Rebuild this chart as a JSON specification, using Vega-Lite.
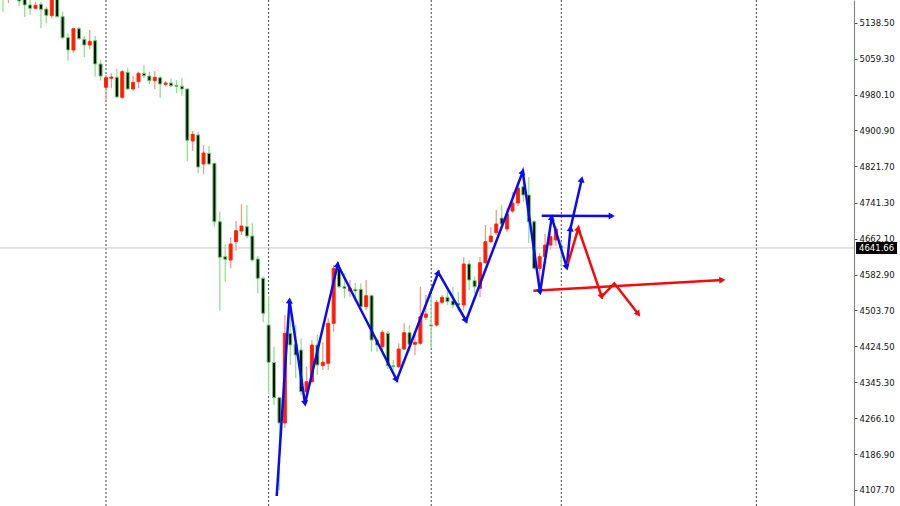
{
  "$schema": "https://vega.github.io/schema/vega-lite/v6.json",
  "width": 854,
  "height": 506,
  "padding": {"left": 0, "top": 0, "right": 46, "bottom": 0},
  "autosize": {"type": "none"},
  "background": "white",
  "config": {
    "view": {"stroke": null},
    "scale": {"continuousPadding": 0}
  },
  "datasets": {
    "candles": [
      {"i":0,"o":5232.7,"h":5243.8,"l":5162.1,"c":5195.2},
      {"i":1,"o":5195.2,"h":5228.3,"l":5182.0,"c":5215.1},
      {"i":2,"o":5254.8,"h":5265.8,"l":5206.2,"c":5221.7},
      {"i":3,"o":5215.1,"h":5223.9,"l":5175.4,"c":5186.4},
      {"i":4,"o":5197.4,"h":5206.2,"l":5151.1,"c":5177.6},
      {"i":5,"o":5177.6,"h":5190.8,"l":5155.5,"c":5170.3},
      {"i":6,"o":5170.3,"h":5184.9,"l":5168.7,"c":5176.9},
      {"i":7,"o":5179.1,"h":5184.9,"l":5126.2,"c":5168.1},
      {"i":8,"o":5168.7,"h":5173.8,"l":5137.2,"c":5154.8},
      {"i":9,"o":5154.0,"h":5199.6,"l":5148.2,"c":5193.0},
      {"i":10,"o":5193.0,"h":5201.8,"l":5150.0,"c":5151.8},
      {"i":11,"o":5151.8,"h":5162.8,"l":5101.9,"c":5105.4},
      {"i":12,"o":5105.4,"h":5115.1,"l":5054.7,"c":5078.3},
      {"i":13,"o":5078.3,"h":5127.0,"l":5072.3,"c":5125.3},
      {"i":14,"o":5125.3,"h":5129.7,"l":5100.4,"c":5103.2},
      {"i":15,"o":5101.9,"h":5109.2,"l":5062.2,"c":5089.3},
      {"i":16,"o":5089.3,"h":5122.4,"l":5079.8,"c":5097.5},
      {"i":17,"o":5098.8,"h":5109.2,"l":5019.4,"c":5047.4},
      {"i":18,"o":5047.4,"h":5056.2,"l":5010.6,"c":5020.9},
      {"i":19,"o":4996.0,"h":5023.2,"l":4968.0,"c":5017.2},
      {"i":20,"o":5015.9,"h":5026.9,"l":4993.8,"c":5018.7},
      {"i":21,"o":5018.1,"h":5036.4,"l":4971.7,"c":4974.6},
      {"i":22,"o":4974.0,"h":5034.2,"l":4969.5,"c":5030.4},
      {"i":23,"o":5029.1,"h":5039.3,"l":4990.1,"c":4992.3},
      {"i":24,"o":4992.3,"h":5021.6,"l":4987.9,"c":5007.0},
      {"i":25,"o":5008.4,"h":5030.4,"l":4993.8,"c":5026.9},
      {"i":26,"o":5026.9,"h":5045.2,"l":5015.9,"c":5021.6},
      {"i":27,"o":5020.9,"h":5030.4,"l":5003.3,"c":5010.6},
      {"i":28,"o":5010.6,"h":5032.0,"l":4991.6,"c":5018.1},
      {"i":29,"o":5017.2,"h":5021.6,"l":4973.1,"c":5003.3},
      {"i":30,"o":5002.6,"h":5009.9,"l":4997.3,"c":5005.5},
      {"i":31,"o":5005.5,"h":5015.9,"l":4996.7,"c":4999.5},
      {"i":32,"o":5000.4,"h":5012.1,"l":4982.8,"c":4998.2},
      {"i":33,"o":4998.2,"h":5017.2,"l":4977.5,"c":4992.3},
      {"i":34,"o":4992.3,"h":4994.5,"l":4833.4,"c":4879.1},
      {"i":35,"o":4877.6,"h":4899.6,"l":4855.5,"c":4892.3},
      {"i":36,"o":4890.8,"h":4898.1,"l":4807.0,"c":4820.2},
      {"i":37,"o":4826.8,"h":4868.7,"l":4804.8,"c":4851.1},
      {"i":38,"o":4850.4,"h":4866.5,"l":4824.6,"c":4826.8},
      {"i":39,"o":4828.4,"h":4830.1,"l":4687.2,"c":4699.5},
      {"i":40,"o":4699.5,"h":4721.6,"l":4503.2,"c":4621.0},
      {"i":41,"o":4622.3,"h":4649.7,"l":4567.2,"c":4616.6},
      {"i":42,"o":4615.0,"h":4665.1,"l":4596.7,"c":4650.3},
      {"i":43,"o":4655.4,"h":4701.1,"l":4635.6,"c":4679.7},
      {"i":44,"o":4679.0,"h":4737.9,"l":4670.2,"c":4690.0},
      {"i":45,"o":4688.5,"h":4736.4,"l":4662.9,"c":4668.0},
      {"i":46,"o":4668.0,"h":4696.0,"l":4611.3,"c":4615.0},
      {"i":47,"o":4617.2,"h":4623.9,"l":4541.6,"c":4574.7},
      {"i":48,"o":4574.7,"h":4578.2,"l":4477.6,"c":4497.5},
      {"i":49,"o":4471.6,"h":4535.6,"l":4319.4,"c":4389.4},
      {"i":50,"o":4388.9,"h":4423.8,"l":4295.2,"c":4311.3},
      {"i":51,"o":4311.3,"h":4313.5,"l":4107.7,"c":4255.5},
      {"i":52,"o":4255.5,"h":4493.7,"l":4244.4,"c":4453.3},
      {"i":53,"o":4453.3,"h":4515.8,"l":4383.4,"c":4427.5},
      {"i":54,"o":4429.1,"h":4471.6,"l":4354.1,"c":4405.5},
      {"i":55,"o":4416.5,"h":4442.3,"l":4317.2,"c":4324.5},
      {"i":56,"o":4324.5,"h":4379.7,"l":4317.2,"c":4346.6},
      {"i":57,"o":4346.6,"h":4438.6,"l":4343.0,"c":4427.5},
      {"i":58,"o":4427.5,"h":4449.6,"l":4361.4,"c":4383.4},
      {"i":59,"o":4381.9,"h":4433.5,"l":4372.4,"c":4389.4},
      {"i":60,"o":4387.2,"h":4486.4,"l":4372.4,"c":4475.4},
      {"i":61,"o":4475.4,"h":4604.0,"l":4456.9,"c":4596.7},
      {"i":62,"o":4596.7,"h":4604.0,"l":4552.6,"c":4556.1},
      {"i":63,"o":4556.1,"h":4585.7,"l":4530.6,"c":4552.6},
      {"i":64,"o":4546.7,"h":4570.9,"l":4534.1,"c":4552.6},
      {"i":65,"o":4550.4,"h":4564.3,"l":4523.1,"c":4546.7},
      {"i":66,"o":4550.4,"h":4563.6,"l":4508.5,"c":4512.0},
      {"i":67,"o":4512.0,"h":4570.9,"l":4504.7,"c":4536.3},
      {"i":68,"o":4536.3,"h":4539.4,"l":4412.8,"c":4438.6},
      {"i":69,"o":4438.6,"h":4442.3,"l":4412.8,"c":4427.5},
      {"i":70,"o":4423.8,"h":4460.6,"l":4412.8,"c":4455.5},
      {"i":71,"o":4453.3,"h":4458.4,"l":4374.6,"c":4381.9},
      {"i":72,"o":4381.9,"h":4394.4,"l":4372.4,"c":4379.7},
      {"i":73,"o":4379.7,"h":4431.3,"l":4376.1,"c":4418.7},
      {"i":74,"o":4418.7,"h":4475.4,"l":4416.5,"c":4454.7},
      {"i":75,"o":4454.7,"h":4471.6,"l":4412.8,"c":4429.1},
      {"i":76,"o":4429.1,"h":4453.3,"l":4405.5,"c":4433.5},
      {"i":77,"o":4431.3,"h":4556.1,"l":4427.5,"c":4490.0},
      {"i":78,"o":4488.6,"h":4537.8,"l":4482.7,"c":4495.9},
      {"i":79,"o":4471.6,"h":4537.8,"l":4420.3,"c":4469.4},
      {"i":80,"o":4471.6,"h":4526.8,"l":4467.9,"c":4521.7},
      {"i":81,"o":4521.7,"h":4537.8,"l":4517.3,"c":4532.8},
      {"i":82,"o":4532.8,"h":4556.1,"l":4515.8,"c":4523.1},
      {"i":83,"o":4524.6,"h":4556.1,"l":4508.5,"c":4515.8},
      {"i":84,"o":4519.5,"h":4545.1,"l":4501.0,"c":4515.8},
      {"i":85,"o":4515.8,"h":4621.0,"l":4504.7,"c":4606.2},
      {"i":86,"o":4606.2,"h":4615.0,"l":4548.9,"c":4570.9},
      {"i":87,"o":4569.4,"h":4578.2,"l":4541.6,"c":4556.1},
      {"i":88,"o":4552.6,"h":4621.7,"l":4533.4,"c":4609.1},
      {"i":89,"o":4609.1,"h":4692.2,"l":4606.2,"c":4655.4},
      {"i":90,"o":4655.4,"h":4687.8,"l":4652.5,"c":4668.0},
      {"i":91,"o":4675.3,"h":4725.3,"l":4670.2,"c":4694.5},
      {"i":92,"o":4707.7,"h":4736.4,"l":4681.2,"c":4694.5},
      {"i":93,"o":4683.4,"h":4729.8,"l":4676.8,"c":4716.5},
      {"i":94,"o":4723.1,"h":4765.0,"l":4718.7,"c":4740.8},
      {"i":95,"o":4740.8,"h":4787.1,"l":4734.2,"c":4773.9},
      {"i":96,"o":4776.7,"h":4802.5,"l":4743.0,"c":4758.4},
      {"i":97,"o":4758.4,"h":4798.1,"l":4652.5,"c":4699.5},
      {"i":98,"o":4699.5,"h":4703.3,"l":4593.0,"c":4596.7},
      {"i":99,"o":4596.7,"h":4630.5,"l":4546.7,"c":4622.3},
      {"i":100,"o":4622.3,"h":4672.4,"l":4610.6,"c":4648.1},
      {"i":101,"o":4648.1,"h":4681.2,"l":4637.1,"c":4666.4},
      {"i":102,"o":4659.2,"h":4690.0,"l":4645.9,"c":4683.4},
      {"i":103,"o":4645.9,"h":4655.4,"l":4600.3,"c":4641.66}
    ],
    "separators": [{"i":19},{"i":49},{"i":79},{"i":103},{"i":139}],
    "paths": [
      {"seg":"A","scenario":"bull","k":0,"i":50.50,"p":4094.4},
      {"seg":"A","scenario":"bull","k":1,"i":52.86,"p":4525.7},
      {"seg":"A","scenario":"bull","k":2,"i":55.72,"p":4298.5},
      {"seg":"A","scenario":"bull","k":3,"i":61.75,"p":4605.1},
      {"seg":"A","scenario":"bull","k":4,"i":72.64,"p":4350.3},
      {"seg":"A","scenario":"bull","k":5,"i":80.31,"p":4587.5},
      {"seg":"A","scenario":"bull","k":6,"i":85.42,"p":4481.1},
      {"seg":"A","scenario":"bull","k":7,"i":95.89,"p":4809.8},
      {"seg":"A","scenario":"bull","k":8,"i":99.08,"p":4543.8},
      {"seg":"A","scenario":"bull","k":9,"i":101.24,"p":4709.2},
      {"seg":"A","scenario":"bull","k":10,"i":104.00,"p":4598.5},
      {"seg":"A","scenario":"bull","k":11,"i":104.70,"p":4685.0},
      {"seg":"A","scenario":"bull","k":12,"i":106.77,"p":4793.1},
      {"seg":"B","scenario":"bull","k":0,"i":99.39,"p":4712.8},
      {"seg":"B","scenario":"bull","k":1,"i":112.31,"p":4712.0},
      {"seg":"C","scenario":"bear","k":0,"i":104.00,"p":4598.5},
      {"seg":"C","scenario":"bear","k":1,"i":106.14,"p":4685.0},
      {"seg":"C","scenario":"bear","k":2,"i":110.46,"p":4534.1},
      {"seg":"C","scenario":"bear","k":3,"i":112.79,"p":4563.6},
      {"seg":"C","scenario":"bear","k":4,"i":117.21,"p":4495.9},
      {"seg":"D","scenario":"bear","k":0,"i":97.84,"p":4547.3},
      {"seg":"D","scenario":"bear","k":1,"i":132.71,"p":4570.9}
    ],
    "arrows": [
      {"scenario":"bull","i":52.86,"p":4525.7,"dir":3.7},
      {"scenario":"bull","i":55.72,"p":4298.5,"dir":171.4},
      {"scenario":"bull","i":61.75,"p":4605.1,"dir":13.2},
      {"scenario":"bull","i":72.64,"p":4350.3,"dir":152.9},
      {"scenario":"bull","i":80.31,"p":4587.5,"dir":21.2},
      {"scenario":"bull","i":85.42,"p":4481.1,"dir":150.1},
      {"scenario":"bull","i":95.89,"p":4809.8,"dir":20.8},
      {"scenario":"bull","i":99.08,"p":4543.8,"dir":171.8},
      {"scenario":"bull","i":101.24,"p":4709.2,"dir":8.9},
      {"scenario":"bull","i":104.00,"p":4598.5,"dir":163.4},
      {"scenario":"bull","i":104.70,"p":4685.0,"dir":5.5},
      {"scenario":"bull","i":106.77,"p":4793.1,"dir":12.9},
      {"scenario":"bull","i":112.31,"p":4712.0,"dir":90},
      {"scenario":"bear","i":106.14,"p":4685.0,"dir":16.2},
      {"scenario":"bear","i":110.46,"p":4534.1,"dir":161.1},
      {"scenario":"bear","i":117.21,"p":4495.9,"dir":142},
      {"scenario":"bear","i":132.71,"p":4570.9,"dir":86.8}
    ],
    "last": [{"price":4641.66,"label":"4641.66"}]
  },
  "encoding": {
    "x": {"type": "quantitative", "scale": {"domain": [-0.553, 157.0], "nice": false, "zero": false, "padding": 0}, "axis": null}
  },
  "layer": [
    {
      "data": {"name": "separators"},
      "mark": {"type": "rule", "color": "#444444", "strokeWidth": 1, "strokeDash": [2, 2]},
      "encoding": {
        "x": {"field": "i", "type": "quantitative", "axis": null}
      }
    },
    {
      "data": {"name": "candles"},
      "mark": {"type": "rule", "strokeWidth": 1.3, "clip": true},
      "encoding": {
        "x": {"field": "i", "type": "quantitative", "axis": null},
        "y": {
          "field": "l", "type": "quantitative",
          "scale": {"domain": [4072.4, 5188.6], "nice": false, "zero": false, "padding": 0},
          "axis": {
            "orient": "right", "title": null, "grid": false,
            "values": [5138.5, 5059.3, 4980.1, 4900.9, 4821.7, 4741.3, 4662.1, 4582.9, 4503.7, 4424.5, 4345.3, 4266.1, 4186.9, 4107.7],
            "tickCount": 30,
            "format": ".2f",
            "domainColor": "#8a8a8a", "domainWidth": 1.2,
            "tickColor": "#444444", "tickSize": 3, "tickWidth": 1,
            "labelFont": "DejaVu Sans", "labelFontSize": 8.5, "labelColor": "#111111",
            "labelPadding": 2, "labelBaseline": "middle", "labelFlush": false, "labelOverlap": false, "labelBound": false
          }
        },
        "y2": {"field": "h"},
        "color": {"condition": {"test": "datum.c >= datum.o", "value": "#f79a84"}, "value": "#8fe38f"}
      }
    },
    {
      "data": {"name": "last"},
      "mark": {"type": "rule", "color": "#c8c8c8", "strokeWidth": 1},
      "encoding": {
        "y": {"field": "price", "type": "quantitative"}
      }
    },
    {
      "data": {"name": "candles"},
      "mark": {"type": "bar", "width": 3, "strokeWidth": 1, "clip": true},
      "encoding": {
        "x": {"field": "i", "type": "quantitative", "axis": null},
        "y": {"field": "o", "type": "quantitative"},
        "y2": {"field": "c"},
        "fill": {"condition": {"test": "datum.c >= datum.o", "value": "#ff1a00"}, "value": "#000000"},
        "stroke": {"condition": {"test": "datum.c >= datum.o", "value": "#ff2a10"}, "value": "#5fcf5f"}
      }
    },
    {
      "data": {"name": "paths"},
      "mark": {"type": "line", "strokeWidth": 2.5, "strokeJoin": "miter"},
      "encoding": {
        "x": {"field": "i", "type": "quantitative", "axis": null},
        "y": {"field": "p", "type": "quantitative"},
        "detail": {"field": "seg"},
        "order": {"field": "k"},
        "color": {"field": "scenario", "type": "nominal", "scale": {"domain": ["bull", "bear"], "range": ["#0a0af5", "#f50a0a"]}, "legend": null}
      }
    },
    {
      "data": {"name": "arrows"},
      "mark": {"type": "point", "shape": "triangle-up", "filled": true, "size": 50, "opacity": 1},
      "encoding": {
        "x": {"field": "i", "type": "quantitative", "axis": null},
        "y": {"field": "p", "type": "quantitative"},
        "angle": {"field": "dir", "type": "quantitative", "scale": null},
        "color": {"field": "scenario", "type": "nominal", "legend": null}
      }
    },
    {
      "data": {"name": "last"},
      "mark": {"type": "rect", "color": "#000000", "clip": false},
      "encoding": {
        "x": {"datum": 157.38, "type": "quantitative", "axis": null},
        "x2": {"datum": 164.94},
        "y": {"datum": 4655.0, "type": "quantitative"},
        "y2": {"datum": 4628.3}
      }
    },
    {
      "data": {"name": "last"},
      "mark": {"type": "text", "color": "#ffffff", "align": "left", "baseline": "middle", "font": "DejaVu Sans", "fontSize": 8.5, "clip": false},
      "encoding": {
        "x": {"datum": 157.93, "type": "quantitative", "axis": null},
        "y": {"field": "price", "type": "quantitative"},
        "text": {"field": "label"}
      }
    }
  ]
}
